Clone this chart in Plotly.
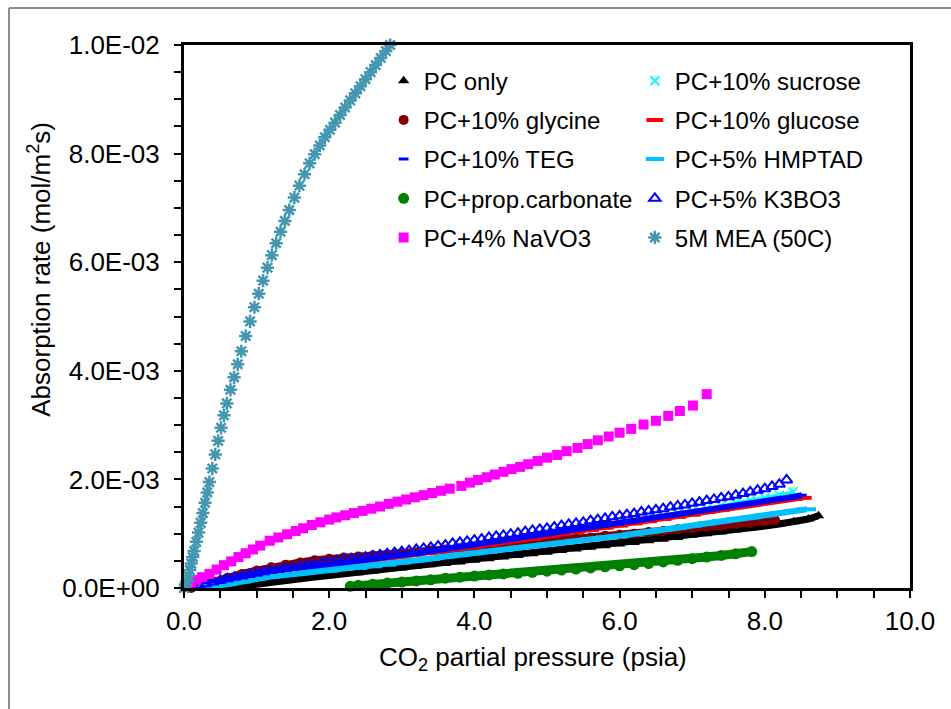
import plotly.graph_objects as go

# ---------------- data (x: psia, y: 1E-3 mol/m2s) ----------------
pc_x = [0.2,0.4,0.6,0.8,1.0,1.2,1.4,1.6,1.8,2.0,2.2,2.4,2.6,2.8,3.0,3.2,3.4,3.6,3.8,4.0,4.2,4.4,4.6,4.8,5.0,5.2,5.4,5.6,5.8,6.0,6.2,6.4,6.6,6.8,7.0,7.2,7.4,7.6,7.8,8.0,8.2,8.4,8.6,8.74]
pc_y = [0.00,0.00,0.01,0.03,0.07,0.11,0.14,0.17,0.20,0.23,0.26,0.28,0.31,0.34,0.37,0.40,0.43,0.45,0.48,0.51,0.54,0.57,0.60,0.63,0.66,0.69,0.72,0.75,0.78,0.81,0.84,0.87,0.90,0.93,0.97,1.00,1.03,1.07,1.10,1.14,1.18,1.22,1.27,1.33]

suc_x = [0.2,0.4,0.6,0.8,1.0,1.2,1.4,1.6,1.8,2.0,2.2,2.4,2.6,2.8,3.0,3.2,3.4,3.6,3.8,4.0,4.2,4.4,4.6,4.8,5.0,5.2,5.4,5.6,5.8,6.0,6.2,6.4,6.6,6.8,7.0,7.2,7.4,7.6,7.8,8.0,8.2,8.39]
suc_y = [0.05,0.10,0.16,0.21,0.26,0.30,0.34,0.37,0.41,0.44,0.48,0.51,0.55,0.58,0.62,0.65,0.69,0.73,0.77,0.81,0.84,0.88,0.92,0.96,1.00,1.04,1.08,1.12,1.16,1.20,1.24,1.28,1.32,1.37,1.41,1.46,1.51,1.56,1.61,1.66,1.71,1.77]

gly_x = [0.1,0.2,0.4,0.6,0.8,1.0,1.2,1.4,1.6,1.8,2.0,2.2,2.4,2.6,2.8,3.0,3.2,3.4,3.6,3.8,4.0,4.2,4.4,4.6,4.8,5.0,5.2,5.4,5.6,5.8,6.0,6.2,6.4,6.6,6.8,7.0,7.2,7.4,7.6,7.8,8.0,8.14]
gly_y = [0.00,0.04,0.12,0.19,0.26,0.32,0.38,0.43,0.47,0.51,0.54,0.56,0.58,0.60,0.62,0.64,0.66,0.69,0.71,0.73,0.75,0.77,0.80,0.82,0.84,0.86,0.89,0.91,0.93,0.96,0.98,1.00,1.03,1.05,1.08,1.10,1.13,1.15,1.18,1.20,1.23,1.25]

glu_x = [0.2,0.4,0.6,0.8,1.0,1.2,1.4,1.6,1.8,2.0,2.2,2.4,2.6,2.8,3.0,3.2,3.4,3.6,3.8,4.0,4.2,4.4,4.6,4.8,5.0,5.2,5.4,5.6,5.8,6.0,6.2,6.4,6.6,6.8,7.0,7.2,7.4,7.6,7.8,8.0,8.2,8.4,8.53]
glu_y = [0.04,0.09,0.14,0.19,0.24,0.28,0.32,0.35,0.38,0.41,0.45,0.48,0.52,0.55,0.58,0.62,0.65,0.69,0.73,0.76,0.80,0.84,0.88,0.91,0.95,0.99,1.03,1.07,1.11,1.15,1.19,1.23,1.27,1.31,1.35,1.40,1.44,1.49,1.53,1.57,1.61,1.64,1.66]

teg_x = [0.1,0.2,0.4,0.6,0.8,1.0,1.2,1.4,1.6,1.8,2.0,2.2,2.4,2.6,2.8,3.0,3.2,3.4,3.6,3.8,4.0,4.2,4.4,4.6,4.8,5.0,5.2,5.4,5.6,5.8,6.0,6.2,6.4,6.6,6.8,7.0,7.2,7.4,7.6,7.8,8.0,8.2,8.4,8.51]
teg_y = [0.02,0.05,0.10,0.16,0.21,0.26,0.30,0.34,0.37,0.40,0.43,0.47,0.50,0.54,0.57,0.61,0.64,0.68,0.72,0.76,0.80,0.83,0.87,0.91,0.94,0.98,1.02,1.06,1.10,1.14,1.18,1.22,1.26,1.30,1.34,1.39,1.43,1.47,1.52,1.56,1.60,1.64,1.68,1.71]

hmp_x = [0.2,0.4,0.6,0.8,1.0,1.2,1.4,1.6,1.8,2.0,2.2,2.4,2.6,2.8,3.0,3.2,3.4,3.6,3.8,4.0,4.2,4.4,4.6,4.8,5.0,5.2,5.4,5.6,5.8,6.0,6.2,6.4,6.6,6.8,7.0,7.2,7.4,7.6,7.8,8.0,8.2,8.4,8.58]
hmp_y = [0.00,0.03,0.07,0.12,0.17,0.21,0.24,0.27,0.30,0.32,0.35,0.37,0.40,0.43,0.47,0.51,0.54,0.58,0.61,0.64,0.67,0.70,0.74,0.77,0.80,0.83,0.87,0.90,0.93,0.96,1.00,1.03,1.07,1.11,1.15,1.19,1.23,1.27,1.30,1.34,1.38,1.42,1.45]

pcarb_x = [2.29,2.4,2.6,2.8,3.0,3.2,3.4,3.6,3.8,4.0,4.2,4.4,4.6,4.8,5.0,5.2,5.4,5.6,5.8,6.0,6.2,6.4,6.6,6.8,7.0,7.2,7.4,7.6,7.82]
pcarb_y = [0.03,0.05,0.07,0.09,0.11,0.13,0.15,0.18,0.20,0.22,0.24,0.26,0.27,0.29,0.31,0.33,0.35,0.37,0.39,0.41,0.43,0.45,0.48,0.51,0.54,0.57,0.60,0.63,0.67]

k3_x = [0.1,0.2,0.3,0.4,0.5,0.6,0.7,0.8,0.9,1.0,1.1,1.2,1.3,1.4,1.5,1.6,1.7,1.8,1.9,2.0,2.1,2.2,2.3,2.4,2.5,2.6,2.7,2.8,2.9,3.0,3.1,3.2,3.3,3.4,3.5,3.6,3.7,3.8,3.9,4.0,4.1,4.2,4.3,4.4,4.5,4.6,4.7,4.8,4.9,5.0,5.1,5.2,5.3,5.4,5.5,5.6,5.7,5.8,5.9,6.0,6.1,6.2,6.3,6.4,6.5,6.6,6.7,6.8,6.9,7.0,7.1,7.2,7.3,7.4,7.5,7.6,7.7,7.8,7.9,8.0,8.1,8.2,8.3]
k3_y = [0.02,0.05,0.08,0.11,0.14,0.17,0.20,0.22,0.25,0.27,0.30,0.32,0.34,0.36,0.38,0.40,0.42,0.44,0.46,0.48,0.50,0.52,0.54,0.55,0.57,0.59,0.61,0.63,0.65,0.67,0.69,0.71,0.73,0.75,0.77,0.79,0.82,0.84,0.86,0.88,0.90,0.93,0.95,0.97,0.99,1.01,1.04,1.06,1.08,1.10,1.12,1.15,1.17,1.19,1.21,1.24,1.26,1.28,1.31,1.33,1.35,1.37,1.40,1.42,1.44,1.46,1.49,1.51,1.53,1.56,1.58,1.61,1.63,1.66,1.68,1.71,1.74,1.77,1.80,1.83,1.87,1.91,1.99]

nav_x = [0.10,0.17,0.25,0.35,0.45,0.55,0.65,0.75,0.85,0.95,1.05,1.18,1.30,1.42,1.54,1.64,1.76,1.88,2.00,2.10,2.22,2.34,2.46,2.58,2.70,2.82,2.94,3.06,3.18,3.30,3.42,3.54,3.66,3.82,3.94,4.05,4.17,4.28,4.40,4.51,4.63,4.74,4.87,5.00,5.14,5.27,5.42,5.56,5.70,5.85,6.00,6.16,6.33,6.50,6.67,6.83,7.01,7.20]
nav_y = [0.10,0.15,0.20,0.26,0.34,0.42,0.49,0.57,0.64,0.71,0.78,0.87,0.93,0.99,1.05,1.10,1.16,1.21,1.26,1.30,1.34,1.38,1.42,1.46,1.50,1.55,1.59,1.63,1.67,1.71,1.75,1.79,1.83,1.88,1.94,1.99,2.04,2.09,2.14,2.19,2.23,2.28,2.34,2.40,2.45,2.52,2.58,2.65,2.72,2.79,2.86,2.93,3.01,3.08,3.17,3.26,3.36,3.57]

mea_x = [0.00,0.02,0.04,0.06,0.08,0.10,0.12,0.14,0.17,0.20,0.23,0.26,0.29,0.32,0.35,0.39,0.43,0.47,0.51,0.55,0.59,0.64,0.69,0.74,0.79,0.85,0.91,0.97,1.03,1.09,1.15,1.21,1.27,1.33,1.39,1.45,1.52,1.59,1.66,1.73,1.80,1.87,1.94,2.01,2.08,2.15,2.22,2.29,2.36,2.43,2.50,2.57,2.64,2.71,2.78,2.84]
mea_y = [0.00,0.05,0.12,0.22,0.33,0.45,0.57,0.68,0.85,1.02,1.20,1.38,1.57,1.76,1.95,2.20,2.46,2.71,2.95,3.18,3.40,3.65,3.88,4.12,4.36,4.64,4.91,5.17,5.42,5.66,5.90,6.13,6.35,6.56,6.76,6.96,7.19,7.41,7.62,7.82,7.99,8.15,8.30,8.44,8.57,8.71,8.85,8.98,9.11,9.24,9.37,9.50,9.63,9.76,9.89,10.00]

y_tickvals = [0.0, 0.002, 0.004, 0.006, 0.008, 0.010]
y_ticktext = ["0.0E+00", "2.0E-03", "4.0E-03", "6.0E-03", "8.0E-03", "1.0E-02"]
x_tickvals = [0, 2, 4, 6, 8, 10]
x_ticktext = ["0.0", "2.0", "4.0", "6.0", "8.0", "10.0"]

UNIT = 1e-3  # values above were read in units of 1E-03 mol/m2s

# name, x, y, symbol, size, color, filled, marker-line width, band line width, legend column
series = [
    ("PC only", pc_x, pc_y, "triangle-up", 10, "#000000", True, 0, 7, "legend"),
    ("PC+10% sucrose", suc_x, suc_y, "x-thin-open", 9, "#00FFFF", False, 2, 3, "legend2"),
    ("PC+10% glycine", gly_x, gly_y, "circle", 10, "#800000", True, 0, 8, "legend"),
    ("PC+10% glucose", glu_x, glu_y, "line-ew-open", 12, "#FF0000", False, 4, 5, "legend2"),
    ("PC+10% TEG", teg_x, teg_y, "line-ew-open", 7, "#0000FF", False, 3, 6, "legend"),
    ("PC+5% HMPTAD", hmp_x, hmp_y, "line-ew-open", 13, "#00BFFF", False, 4, 6, "legend2"),
    ("PC+prop.carbonate", pcarb_x, pcarb_y, "circle", 11, "#008000", True, 0, 9, "legend"),
    ("PC+5% K3BO3", k3_x, k3_y, "triangle-up-open", 10, "#0000FF", False, 2, 0, "legend2"),
    ("PC+4% NaVO3", nav_x, nav_y, "square", 10, "#FF00FF", True, 0, 0, "legend"),
    ("5M MEA (50C)", mea_x, mea_y, "asterisk-open", 11, "#4397B1", False, 2.5, 0, "legend2"),
]

fig = go.Figure()
for i, (name, xs, ys, sym, size, col, filled, lw, band, leg) in enumerate(series):
    yv = [v * UNIT for v in ys]
    if band:
        fig.add_trace(go.Scatter(
            x=xs, y=yv, mode="lines", line=dict(color=col, width=band),
            legendgroup=f"g{i}", showlegend=False, hoverinfo="skip", cliponaxis=False,
            legend=leg))
    mk = dict(symbol=sym, size=size, color=col)
    if filled:
        mk["line"] = dict(width=0)
    else:
        mk["line"] = dict(width=lw, color=col)
    fig.add_trace(go.Scatter(
        x=xs, y=yv, mode="markers", name=name, marker=mk,
        legendgroup=f"g{i}", legend=leg, cliponaxis=False))

FONT = "Liberation Sans, Arial, sans-serif"
axis_common = dict(
    showline=True, linecolor="black", linewidth=3, mirror=True,
    showgrid=False, zeroline=False,
    ticks="outside", ticklen=7, tickwidth=2, tickcolor="black",
    tickfont=dict(family=FONT, size=26, color="black"),
)

fig.update_layout(
    width=951, height=709,
    margin=dict(l=184, r=41, t=45, b=121),
    paper_bgcolor="white", plot_bgcolor="white",
    font=dict(family=FONT, size=24, color="black"),
    xaxis=dict(range=[0, 10], tickvals=x_tickvals, ticktext=x_ticktext, ticklabelstandoff=1,
               minor=dict(dtick=0.5, tick0=0, ticks="outside", ticklen=7, tickwidth=1.5, tickcolor="black"),
               **axis_common),
    yaxis=dict(range=[0, 0.01], tickvals=y_tickvals, ticktext=y_ticktext, ticklabelstandoff=9,
               minor=dict(dtick=0.0005, tick0=0, ticks="outside", ticklen=7, tickwidth=1.5, tickcolor="black"),
               **axis_common),
    legend=dict(x=0.275, y=0.975, xanchor="left", yanchor="top", bgcolor="rgba(0,0,0,0)",
                font=dict(family=FONT, size=24), tracegroupgap=5, itemsizing="trace"),
    legend2=dict(x=0.621, y=0.975, xanchor="left", yanchor="top", bgcolor="rgba(0,0,0,0)",
                 font=dict(family=FONT, size=24), tracegroupgap=5, itemsizing="trace"),
    showlegend=True,
    annotations=[
        dict(text="CO<sub>2</sub> partial pressure (psia)", xref="paper", yref="paper",
             x=0.481, y=-0.13, xanchor="center", yanchor="middle", showarrow=False,
             font=dict(family=FONT, size=26, color="black")),
        dict(text="Absorption rate (mol/m<sup>2</sup>s)", xref="paper", yref="paper",
             x=-0.199, y=0.587, xanchor="center", yanchor="middle", showarrow=False,
             textangle=-90, font=dict(family=FONT, size=26, color="black")),
    ],
    shapes=[
        dict(type="line", xref="paper", yref="paper", x0=-0.241, x1=-0.241, y0=-0.35, y1=1.068,
             line=dict(color="#8C8C8C", width=2)),
        dict(type="line", xref="paper", yref="paper", x0=-0.241, x1=1.2, y0=1.068, y1=1.068,
             line=dict(color="#8C8C8C", width=2)),
    ],
)

fig.write_html("out.html")
